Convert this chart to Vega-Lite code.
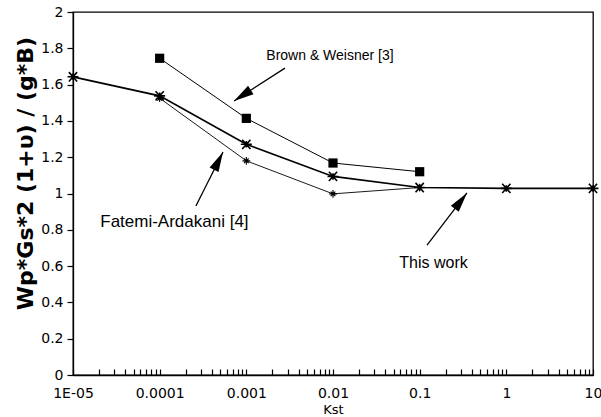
{
  "$schema": "https://vega.github.io/schema/vega-lite/v6.json",
  "autosize": {"type": "none"},
  "width": 520,
  "height": 363,
  "padding": {"left": 73, "top": 12, "right": 8, "bottom": 42},
  "background": "white",
  "config": {
    "view": {"stroke": "black", "strokeWidth": 1.3},
    "axis": {"grid": false, "domainColor": "black", "tickColor": "black", "tickWidth": 1.2, "labelColor": "black", "titleColor": "black", "labelFont": "DejaVu Sans", "labelFontSize": 14, "labelFontWeight": "normal", "titleFont": "DejaVu Sans"}
  },
  "datasets": {
    "series": [
      {"series": "Brown", "kst": 0.0001, "v": 1.745},
      {"series": "Brown", "kst": 0.001, "v": 1.414},
      {"series": "Brown", "kst": 0.01, "v": 1.168},
      {"series": "Brown", "kst": 0.1, "v": 1.12},
      {"series": "This", "kst": 0.00001, "v": 1.643},
      {"series": "This", "kst": 0.0001, "v": 1.538},
      {"series": "This", "kst": 0.001, "v": 1.271},
      {"series": "This", "kst": 0.01, "v": 1.094},
      {"series": "This", "kst": 0.1, "v": 1.033},
      {"series": "This", "kst": 1, "v": 1.028},
      {"series": "This", "kst": 10, "v": 1.028},
      {"series": "Fatemi", "kst": 0.0001, "v": 1.525},
      {"series": "Fatemi", "kst": 0.001, "v": 1.18},
      {"series": "Fatemi", "kst": 0.01, "v": 0.998},
      {"series": "Fatemi", "kst": 0.1, "v": 1.033}
    ],
    "labels": [
      {"name": "Brown", "label": "Brown & Weisner [3]", "kst": 0.00923, "v": 1.758},
      {"name": "Fatemi", "label": "Fatemi-Ardakani [4]", "kst": 0.000148, "v": 0.845},
      {"name": "This", "label": "This work", "kst": 0.1445, "v": 0.617}
    ],
    "arrows": [
      {"name": "Brown", "kst": 0.00279, "v": 1.691, "kst2": 0.000721, "v2": 1.51},
      {"name": "Fatemi", "kst": 0.000262, "v": 0.931, "kst2": 0.000538, "v2": 1.229},
      {"name": "This", "kst": 0.1216, "v": 0.716, "kst2": 0.3516, "v2": 1.003}
    ]
  },
  "encoding": {
    "x": {
      "field": "kst", "type": "quantitative",
      "scale": {"type": "log", "domain": [0.00001, 10], "nice": false},
      "axis": {
        "title": "Kst",
        "titleFontSize": 13, "titleFontWeight": "normal",
        "titleY": 34, "titleBaseline": "middle",
        "values": [0.00001,0.00002,0.00003,0.00004,0.00005,0.00006,0.00007,0.00008,0.00009,0.0001,0.0002,0.0003,0.0004,0.0005,0.0006,0.0007,0.0008,0.0009,0.001,0.002,0.003,0.004,0.005,0.006,0.007,0.008,0.009,0.01,0.02,0.03,0.04,0.05,0.06,0.07,0.08,0.09,0.1,0.2,0.3,0.4,0.5,0.6,0.7,0.8,0.9,1,2,3,4,5,6,7,8,9,10],
        "labelExpr": "datum.value < 0.000011 ? '1E-05' : (abs(log(datum.value)/LN10 - round(log(datum.value)/LN10)) < 0.001 ? format(datum.value, '~f') : '')",
        "labelOverlap": false,
        "labelFlush": false,
        "labelBound": false,
        "tickSize": -6,
        "labelPadding": 17,
        "domainWidth": 1.3
      }
    },
    "y": {
      "field": "v", "type": "quantitative",
      "scale": {"domain": [0, 2], "nice": false, "zero": false},
      "axis": {
        "title": "Wp*Gs*2 (1+υ) / (g*B)",
        "titleFontSize": 22, "titleFontWeight": "bold",
        "titleAngle": -90,
        "titleX": -48, "titleY": 161,
        "titleAlign": "center", "titleBaseline": "middle",
        "values": [0, 0.2, 0.4, 0.6, 0.8, 1, 1.2, 1.4, 1.6, 1.8, 2],
        "format": "~g",
        "labelFlush": false,
        "labelOverlap": false,
        "tickSize": 6,
        "labelPadding": 4,
        "domainWidth": 1.3
      }
    }
  },
  "layer": [
    {
      "data": {"name": "series"},
      "transform": [{"filter": "datum.series == 'Brown'"}],
      "mark": {"type": "line", "color": "black", "strokeWidth": 1}
    },
    {
      "data": {"name": "series"},
      "transform": [{"filter": "datum.series == 'This'"}],
      "mark": {"type": "line", "color": "black", "strokeWidth": 1.7}
    },
    {
      "data": {"name": "series"},
      "transform": [{"filter": "datum.series == 'Fatemi'"}],
      "mark": {"type": "line", "color": "black", "strokeWidth": 0.9}
    },
    {
      "data": {"name": "series"},
      "transform": [{"filter": "datum.series == 'Brown'"}],
      "mark": {"type": "point", "shape": "square", "filled": true, "color": "black", "size": 85, "opacity": 1}
    },
    {
      "data": {"name": "series"},
      "transform": [{"filter": "datum.series == 'This'"}],
      "mark": {"type": "point", "shape": "M-1,0L1,0M-0.75,-0.85L0.75,0.85M-0.75,0.85L0.75,-0.85M0,-0.6L0,0.6", "filled": false, "color": "black", "strokeWidth": 1.6, "size": 120, "opacity": 1}
    },
    {
      "data": {"name": "series"},
      "transform": [{"filter": "datum.series == 'Fatemi'"}],
      "mark": {"type": "point", "shape": "M-1,0L1,0M0,-1L0,1M-0.6,-0.6L0.6,0.6M-0.6,0.6L0.6,-0.6", "filled": false, "color": "black", "strokeWidth": 1.1, "size": 60, "opacity": 1}
    },
    {
      "data": {"name": "arrows"},
      "mark": {"type": "rule", "color": "black", "strokeWidth": 1.3},
      "encoding": {
        "x2": {"field": "kst2"},
        "y2": {"field": "v2"}
      }
    },
    {
      "data": {"name": "arrows"},
      "transform": [{"filter": "datum.name == 'Brown'"}],
      "mark": {"type": "point", "shape": "M0,0L-0.5,2L0.5,2Z", "filled": true, "color": "black", "size": 400, "opacity": 1, "angle": 237},
      "encoding": {
        "x": {"field": "kst2", "type": "quantitative"},
        "y": {"field": "v2", "type": "quantitative"}
      }
    },
    {
      "data": {"name": "arrows"},
      "transform": [{"filter": "datum.name == 'Fatemi'"}],
      "mark": {"type": "point", "shape": "M0,0L-0.5,2L0.5,2Z", "filled": true, "color": "black", "size": 400, "opacity": 1, "angle": 26.6},
      "encoding": {
        "x": {"field": "kst2", "type": "quantitative"},
        "y": {"field": "v2", "type": "quantitative"}
      }
    },
    {
      "data": {"name": "arrows"},
      "transform": [{"filter": "datum.name == 'This'"}],
      "mark": {"type": "point", "shape": "M0,0L-0.5,2L0.5,2Z", "filled": true, "color": "black", "size": 400, "opacity": 1, "angle": 37.6},
      "encoding": {
        "x": {"field": "kst2", "type": "quantitative"},
        "y": {"field": "v2", "type": "quantitative"}
      }
    },
    {
      "data": {"name": "labels"},
      "transform": [{"filter": "datum.name == 'Brown'"}],
      "mark": {"type": "text", "font": "Liberation Sans", "fontSize": 14, "color": "black", "align": "center", "baseline": "middle"},
      "encoding": {"text": {"field": "label"}}
    },
    {
      "data": {"name": "labels"},
      "transform": [{"filter": "datum.name == 'Fatemi'"}],
      "mark": {"type": "text", "font": "Liberation Sans", "fontSize": 17, "color": "black", "align": "center", "baseline": "middle"},
      "encoding": {"text": {"field": "label"}}
    },
    {
      "data": {"name": "labels"},
      "transform": [{"filter": "datum.name == 'This'"}],
      "mark": {"type": "text", "font": "Liberation Sans", "fontSize": 16, "color": "black", "align": "center", "baseline": "middle"},
      "encoding": {"text": {"field": "label"}}
    }
  ]
}
